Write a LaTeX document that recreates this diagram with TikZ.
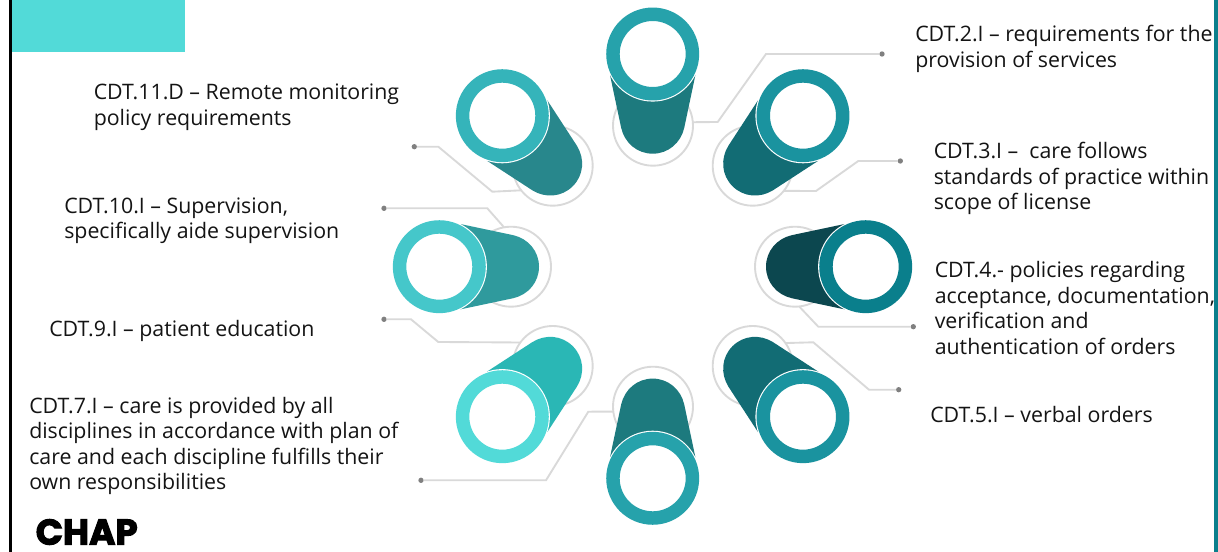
\documentclass[tikz,border=0pt]{standalone}
\usepackage{fontspec}
\setmainfont{Open Sans}
\newfontfamily\logofont[FakeBold=3]{Poppins Bold}
\definecolor{guide}{HTML}{D9D9D9}
\definecolor{dotgray}{HTML}{808080}
\definecolor{band}{HTML}{52DAD8}
\definecolor{edgebar}{HTML}{0A7F8C}
\tikzset{
  x=0.75pt,y=-0.75pt,
  backring/.style={circle,draw=guide,line width=1.4pt,minimum size=60pt,inner sep=0pt,outer sep=0pt},
  guideline/.style={draw=guide,line width=1.4pt},
  dotnode/.style={circle,fill=dotgray,minimum size=4pt,inner sep=0pt,outer sep=0pt},
  label/.style={anchor=north west,align=left,inner sep=0pt,font=\fontsize{16}{19.1}\selectfont,text=black!92},
  ringnode/.style={circle,line width=10.1pt,fill=white,minimum size=59.6pt,inner sep=0pt,outer sep=0pt},
}
\newcommand{\cyl}[6]{%
  \begin{scope}[shift={(#2,#3)},rotate=#4]
    \fill[#6] (-42.7,21) -- (-31.5,74) .. controls (-28,89) and (-15.5,99.7) .. (0,99.7)
      .. controls (15.5,99.7) and (28,89) .. (31.5,74) -- (42.7,21) -- cycle;
    \fill[white] (0,0) circle[radius=47.6];
  \end{scope}
  \node[ringnode,draw=#5] (#1) at (#2,#3) {};
}
\begin{document}
\begin{tikzpicture}
\useasboundingbox (0,0) rectangle (1218,552);
\fill[white] (0,0) rectangle (1218,552);
% frame, edge bar and band
\coordinate (ftop) at (10.3,0);
\coordinate (fbot) at (10.3,552);
\draw[black,line width=1.9pt] (ftop) -- (fbot);
\fill[band] (12,0) rectangle (185,52);
\fill[edgebar] (1214,0) rectangle (1218,552);
% back circles
\node[backring] (b1) at (653,125.7) {};
\node[backring] (b3) at (752.7,165.7) {};
\node[backring] (b4) at (795,266.7) {};
\node[backring] (b5) at (752.7,366) {};
\node[backring] (b8) at (653,406.7) {};
\node[backring] (b9) at (552.7,366) {};
\node[backring] (b10) at (511,266.7) {};
\node[backring] (b11) at (552.7,165.7) {};
% dots
\node[dotnode] (d1) at (882,54) {};
\node[dotnode] (d3) at (900.3,161) {};
\node[dotnode] (d4) at (913.3,326.7) {};
\node[dotnode] (d5) at (898.7,389.7) {};
\node[dotnode] (d8) at (421,480.3) {};
\node[dotnode] (d9) at (384,319.3) {};
\node[dotnode] (d10) at (384,208.3) {};
\node[dotnode] (d11) at (414.3,146.7) {};
% connectors
\draw[guideline] (d1) -- (766,54) -- (717.7,122) -- (b1.5);
\draw[guideline] (d3) -- (858.3,161) -- (816,191) -- (b3.-39);
\draw[guideline] (d4) -- (818.3,326.7) -- (b4.-84);
\draw[guideline] (d5) -- (869,389.7) -- (813.3,342.3) -- (b5.35);
\draw[guideline] (d8) -- (546,480.3) -- (588.3,411.7) -- (b8.187);
\draw[guideline] (d9) -- (411,319.3) -- (438.3,342) -- (b9.144);
\draw[guideline] (d10) -- (487.3,208.3) -- (b10.100);
\draw[guideline] (d11) -- (438.3,146.7) -- (492.3,191.7) -- (b11.218);
% cylinders
\definecolor{r1}{HTML}{26A2AB}\definecolor{c1}{HTML}{1D7A7E}
\definecolor{r3}{HTML}{1A939F}\definecolor{c3}{HTML}{126C74}
\definecolor{r4}{HTML}{0A7F8C}\definecolor{c4}{HTML}{0C474F}
\definecolor{r9}{HTML}{52DAD8}\definecolor{c9}{HTML}{2AB7B5}
\definecolor{r10}{HTML}{45C7CA}\definecolor{c10}{HTML}{2F9A9D}
\definecolor{r11}{HTML}{35B4BA}\definecolor{c11}{HTML}{28878C}
\cyl{p1}{652.7}{54}{0}{r1}{c1}
\cyl{p3}{803}{115.7}{-45}{r3}{c3}
\cyl{p4}{865.7}{266.7}{-90}{r4}{c4}
\cyl{p5}{803}{416.7}{-135}{r3}{c3}
\cyl{p8}{652.7}{478.3}{180}{r1}{c1}
\cyl{p9}{502.3}{416.7}{135}{r9}{c9}
\cyl{p10}{439.3}{266.7}{90}{r10}{c10}
\cyl{p11}{502.3}{115.7}{45}{r11}{c11}
% labels
\node[label] (t2) at (915,23.8) {\strut CDT.2.I – requirements for the\\provision of services};
\node[label] (t3) at (933.5,140.5) {\strut CDT.3.I –\ \ care follows\\standards of practice within\\scope of license};
\node[label] (t4) at (934.5,259.8) {\strut CDT.4.- policies regarding\\acceptance, documentation,\\verification and\\authentication of orders};
\node[label] (t5) at (930,404) {\strut CDT.5.I – verbal orders};
\node[label] (t11) at (93.5,81.8) {\strut CDT.11.D – Remote monitoring\\policy requirements};
\node[label] (t10) at (64,195.3) {\strut CDT.10.I – Supervision,\\specifically aide supervision};
\node[label] (t9) at (49,318.3) {\strut CDT.9.I – patient education};
\node[label] (t7) at (29,395.3) {\strut CDT.7.I – care is provided by all\\disciplines in accordance with plan of\\care and each discipline fulfills their\\own responsibilities};
\node[anchor=base west,inner sep=0pt,font=\logofont\fontsize{26.8}{26.8}\selectfont,text=black] (logo) at (35.5,544.6) {CHAP};
\end{tikzpicture}
\end{document}
